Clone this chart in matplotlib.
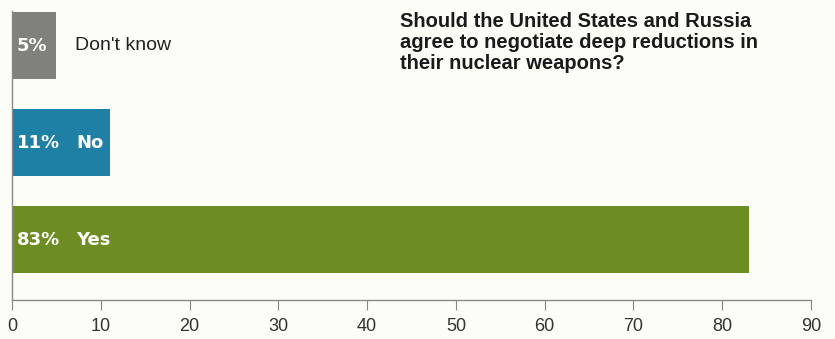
#!/usr/bin/env python3
"""Poll bar chart: US-Russia deep nuclear reductions."""
import matplotlib
matplotlib.use("Agg")
import matplotlib.pyplot as plt

answers = ["Yes", "No", "Don't know"]
shares  = [83, 11, 5]
colors  = ["#6d8c22", "#1f80a6", "#7f817a"]
ticks   = [0, 10, 20, 30, 40, 50, 60, 70, 80, 90]

bg = "#fdfdf8"
plt.rcParams["font.family"] = ["Liberation Sans", "DejaVu Sans"]

fig = plt.figure(figsize=(8.35, 3.39), dpi=100, facecolor=bg)
ax = fig.add_axes([12/835, 39/339, 799/835, 289/339], facecolor=bg)

y = range(len(answers))
ax.barh(y, shares, height=0.69, color=colors, zorder=2)

ax.set_xlim(0, 90)
ax.set_ylim(-0.62, 2.36)
ax.set_xticks(ticks)
ax.set_yticks([])
ax.tick_params(axis="x", direction="out", length=7, width=0.8, color="#888",
               labelsize=13, labelcolor="#333", pad=6)
for s in ("top", "right"):
    ax.spines[s].set_visible(False)
for s in ("left", "bottom"):
    ax.spines[s].set_color("#888")
    ax.spines[s].set_linewidth(1.0)

# percentage inside each bar, answer next to it
bold = dict(ha="left", va="center", color="white", fontsize=13,
            fontweight="bold", family="DejaVu Sans")
for i, (a, v) in enumerate(zip(answers, shares)):
    ax.text(0.5, i, f"{v}%", **bold)
    if a == "Don't know":
        ax.text(7.1, i, a, ha="left", va="center", color="#222", fontsize=14)
    else:
        ax.text(7.2, i, a, **bold)

fig.text(400/835, 1 - 12/339,
         "Should the United States and Russia\n"
         "agree to negotiate deep reductions in\n"
         "their nuclear weapons?",
         ha="left", va="top", fontsize=14.5, fontweight="bold", color="#1a1a1a",
         linespacing=1.12)

fig.savefig("out.png", dpi=100, facecolor=bg)
